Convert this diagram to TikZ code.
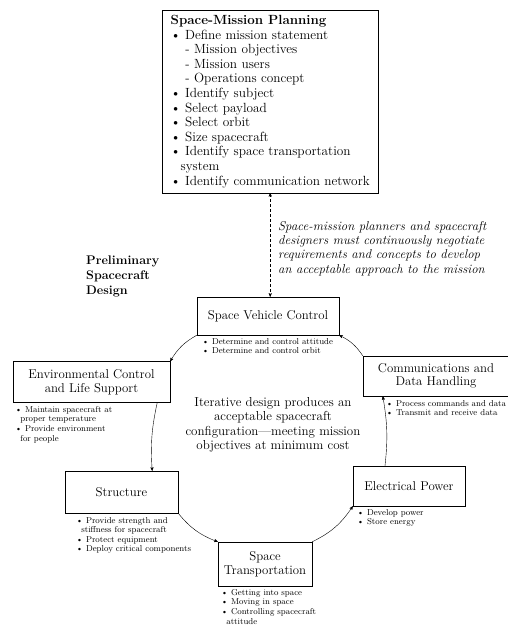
\documentclass[tikz,border=0pt]{standalone}
\usetikzlibrary{arrows}
\newcommand{\bitem}{\textbullet\ }

\begin{document}
\begin{tikzpicture}[x=1pt,y=-1pt,
  box/.style={draw,thin,inner sep=0pt,align=center,font=\fontsize{12.8}{13.5}\selectfont},
  bul/.style={anchor=north west,align=left,inner sep=0pt,font=\fontsize{8.6}{9.6}\selectfont},
  flow/.style={->,>=stealth',thin}]
\useasboundingbox (0,0) rectangle (508,626);

\node[draw,thin,anchor=north west,inner xsep=5,inner ysep=5,align=left,
  minimum width=216,font=\fontsize{13.3}{14.6}\selectfont] (plan) at (162,10) {%
\textbf{Space-Mission Planning}\\
\bitem Define mission statement\\
\hspace*{1.1em}- Mission objectives\\
\hspace*{1.1em}- Mission users\\
\hspace*{1.1em}- Operations concept\\
\bitem Identify subject\\
\bitem Select payload\\
\bitem Select orbit\\
\bitem Size spacecraft\\
\bitem Identify space transportation\\
\hspace*{0.75em}system\\
\bitem Identify communication network};

\node[anchor=north west,align=left,inner sep=0pt,font=\fontsize{12.8}{14.3}\selectfont\itshape] (neg) at (278,221) {%
Space-mission planners and spacecraft\\
designers must continuously negotiate\\
requirements and concepts to develop\\
an acceptable approach to the mission};

\node[anchor=north west,align=left,inner sep=0pt,font=\fontsize{12.5}{15}\selectfont\bfseries] (prelim) at (86,256) {%
Preliminary\\Spacecraft\\Design};

% subsystems
\node[box,minimum width=142,minimum height=38] (svc) at (268,316) {Space Vehicle Control};
\node[box,minimum width=157,minimum height=41] (env) at (91.5,382) {Environmental Control\\and Life Support};
\node[box,minimum width=146,minimum height=40] (comm) at (436,376) {Communications and\\Data Handling};
\node[box,minimum width=113,minimum height=42] (struct) at (121.5,492) {Structure};
\node[box,minimum width=112,minimum height=40] (power) at (409,486) {Electrical Power};
\node[box,minimum width=94,minimum height=44] (transp) at (265,564) {Space\\Transportation};

\node[align=center,inner sep=0pt,font=\fontsize{13}{14.5}\selectfont] (iter) at (273,425) {%
Iterative design produces an\\acceptable spacecraft\\configuration---meeting mission\\objectives at minimum cost};

% bullets
\node[bul] (svcb) at (202,338) {\bitem Determine and control attitude\\\bitem Determine and control orbit};
\node[bul] (envb) at (15,406) {\bitem Maintain spacecraft at\\\hspace*{0.6em}proper temperature\\\bitem Provide environment\\\hspace*{0.6em}for people};
\node[bul] (commb) at (386,400) {\bitem Process commands and data\\\bitem Transmit and receive data};
\node[bul] (structb) at (76,517) {\bitem Provide strength and\\\hspace*{0.6em}stiffness for spacecraft\\\bitem Protect equipment\\\bitem Deploy critical components};
\node[bul] (powerb) at (357,509) {\bitem Develop power\\\bitem Store energy};
\node[bul] (transpb) at (221,589) {\bitem Getting into space\\\bitem Moving in space\\\bitem Controlling spacecraft\\\hspace*{0.6em}attitude};

% negotiation
\draw[<->,>=stealth',densely dashed,thin] (plan.south) -- (plan.south |- svc.north);

% design loop
\draw[flow] (svc.south west) to[bend right=15] (env.north east);
\draw[flow] ([xshift=-13]env.south east) to[bend right=8] ([xshift=-26]struct.north east);
\draw[flow] (struct.south east) to[bend right=15] (transp.north west);
\draw[flow] (transp.north east) to[bend right=15] (power.south west);
\draw[flow] ([xshift=-24]power.north) to[bend right=8] ([xshift=20]comm.south west);
\draw[flow] (comm.north west) to[bend right=15] (svc.south east);
\end{tikzpicture}
\end{document}
